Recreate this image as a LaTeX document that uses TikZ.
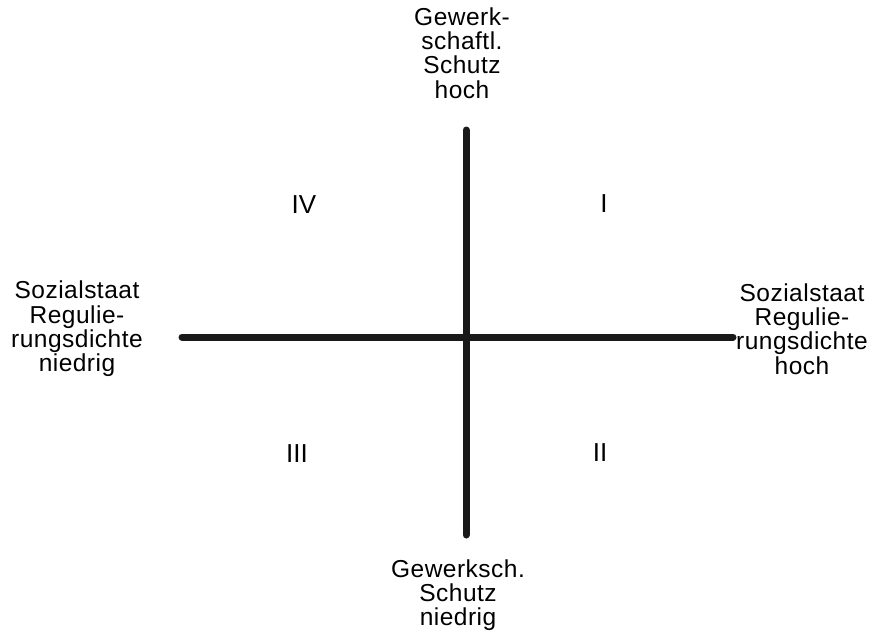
\documentclass[tikz,border=0pt]{standalone}
\usepackage{fontspec}
\setmainfont{Liberation Sans}
\usetikzlibrary{positioning}

\begin{document}
\begin{tikzpicture}[
  x=1pt,y=-1pt,
  axis/.style={line width=7pt,line cap=round,black!90},
  pole/.style={align=center,inner sep=0pt,font=\fontsize{24.5}{24.3}\selectfont\addfontfeature{LetterSpace=2}},
  quad/.style={inner sep=0pt,font=\fontsize{26}{26}\selectfont}
]
  \useasboundingbox (0,0) rectangle (873,634);
  % axis ends
  \coordinate (west)  at (182,337);
  \coordinate (east)  at (733,337);
  \coordinate (north) at (466,130);
  \coordinate (south) at (466,535);

  \draw[axis](west)--(east);
  \draw[axis](north)--(south);

  \node[pole](gtop) at (462,53)  {Gewerk-\\schaftl.\\Schutz\\hoch};
  \node[pole](gbot) at (458,595) {Gewerksch.\\Schutz\\niedrig};
  \node[pole](slow) at (77,329)  {Sozialstaat\\Regulie-\\rungsdichte\\niedrig};
  \node[pole](shigh)at (802,329) {Sozialstaat\\Regulie-\\rungsdichte\\hoch};

  \node[quad](q4) at (304,205) {IV};
  \node[quad](q1) at (604,204) {I};
  \node[quad](q3) at (297,454) {III};
  \node[quad](q2) at (600,453) {II};
\end{tikzpicture}
\end{document}
